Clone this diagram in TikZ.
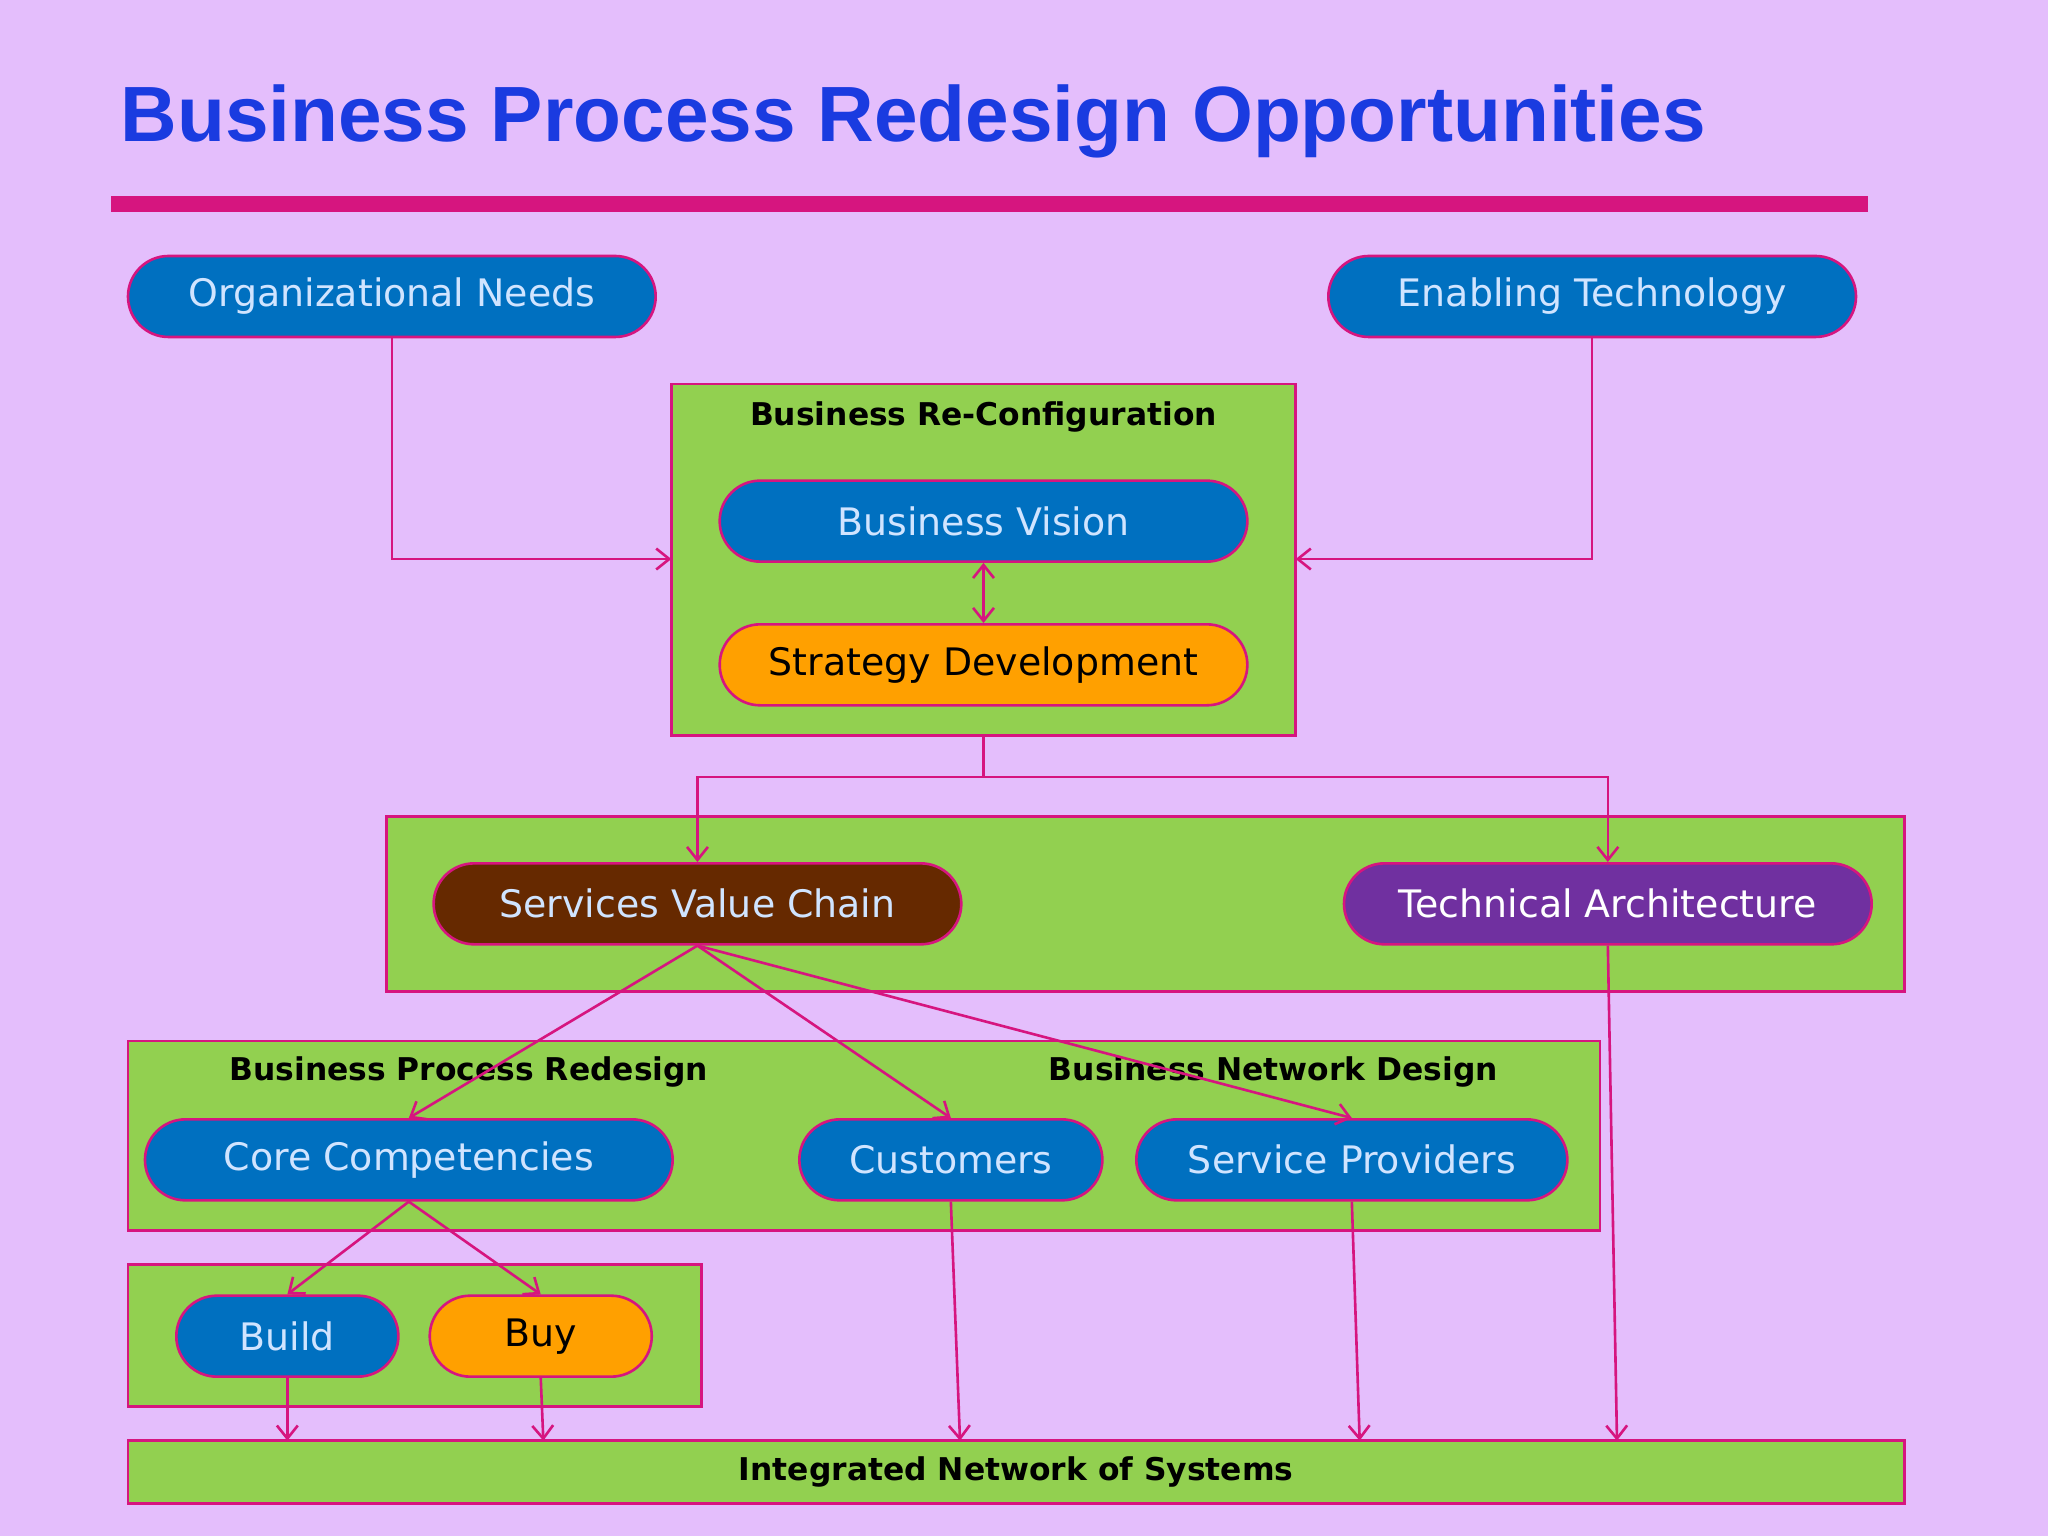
\documentclass[tikz,border=0pt]{standalone}
\usepackage{fontspec}
\setmainfont{DejaVu Sans}
\newfontfamily\titlefont{Liberation Sans}
\begin{document}
\begin{tikzpicture}[x=0.5pt,y=-0.5pt,
  ln/.style={draw=lnc,line width=1pt},
  ar/.style={ln,-{Straight Barb[length=5pt,width=8pt]}},
  box/.style={draw=lnc,fill=grn,line width=1pt},
  pill/.style={rounded corners=15.5pt,draw=lnc,line width=1pt,minimum height=31pt,inner sep=0pt,font=\fontsize{14.5}{17}\selectfont},
  lbl/.style={font=\fontsize{12}{14}\selectfont\bfseries,text=black}]
\usetikzlibrary{arrows.meta}
\definecolor{bg}{HTML}{E4BEFC}
\definecolor{lnc}{HTML}{D6157F}
\definecolor{grn}{HTML}{92D050}
\definecolor{blu}{HTML}{0070C0}
\definecolor{org}{HTML}{FFA000}
\definecolor{brn}{HTML}{662900}
\definecolor{pur}{HTML}{7030A0}
\definecolor{ltx}{HTML}{D0E4FF}
\definecolor{ttl}{HTML}{1A3BE0}
\fill[bg] (0,0) rectangle (1568,1176);
\useasboundingbox (0,0) rectangle (1568,1176);
\node[anchor=base west,inner sep=0,text=ttl,font=\titlefont\fontsize{30}{34}\selectfont\bfseries] (title) at (92,108) {Business Process Redesign Opportunities};
\fill[lnc] (85,150) rectangle (1430,162);
% boxes
\draw[box] (514,294) rectangle (992,563);
\node[lbl] (brc) at (753,319) {Business Re-Configuration};
\draw[box] (296,625) rectangle (1458,759);
\draw[box] (98,797) rectangle (1225,942);
\node[lbl] (bpr) at (359,821) {Business Process Redesign};
\node[lbl] (bnd) at (975,821) {Business Network Design};
\draw[box] (98,968) rectangle (537,1077);
\draw[box] (98,1103) rectangle (1458,1151);
\node[lbl] (ins) at (778,1127) {Integrated Network of Systems};
\coordinate (brcL) at (514,428);
\coordinate (brcR) at (992,428);
\coordinate (brcB) at (753,563);
% pills
\node[pill,fill=blu,text=ltx,minimum width=202pt] (orgn) at (300,227) {Organizational Needs};
\node[pill,fill=blu,text=ltx,minimum width=202pt] (enab) at (1219,227) {Enabling Technology};
\node[pill,fill=blu,text=ltx,minimum width=202pt] (vis) at (753,399) {Business Vision};
\node[pill,fill=org,text=black,minimum width=202pt] (str) at (753,509) {Strategy Development};
\node[pill,fill=brn,text=ltx,minimum width=202pt] (svc) at (534,692) {Services Value Chain};
\node[pill,fill=pur,text=white,minimum width=202pt] (ta) at (1231,692) {Technical Architecture};
\node[pill,fill=blu,text=ltx,minimum width=202pt] (core) at (313,888) {Core Competencies};
\node[pill,fill=blu,text=ltx,minimum width=116pt] (cust) at (728,888) {Customers};
\node[pill,fill=blu,text=ltx,minimum width=165pt] (sp) at (1035,888) {Service Providers};
\node[pill,fill=blu,text=ltx,minimum width=85pt] (build) at (220,1023) {Build};
\node[pill,fill=org,text=black,minimum width=85pt] (buy) at (414,1023) {Buy};
\coordinate (b1) at (220,1103);
\coordinate (b2) at (416,1103);
\coordinate (b3) at (735,1103);
\coordinate (b4) at (1041,1103);
\coordinate (b5) at (1238,1103);
% connectors
\draw[ar] (orgn.south) |- (brcL);
\draw[ar] (enab.south) |- (brcR);
\draw[ln,{Straight Barb[length=5pt,width=8pt]}-{Straight Barb[length=5pt,width=8pt]}] (vis.south) -- (str.north);
\draw[ln] (brcB) -- (753,595) coordinate (j);
\draw[ar] (j) -| (svc.north);
\draw[ar] (j) -| (ta.north);
\draw[ar] (svc.south) -- (core.north);
\draw[ar] (svc.south) -- (cust.north);
\draw[ar] (svc.south) -- (sp.north);
\draw[ar] (ta.south) -- (b5);
\draw[ar] (core.south) -- (build.north);
\draw[ar] (core.south) -- (buy.north);
\draw[ar] (build.south) -- (b1);
\draw[ar] (buy.south) -- (b2);
\draw[ar] (cust.south) -- (b3);
\draw[ar] (sp.south) -- (b4);
\end{tikzpicture}
\end{document}
